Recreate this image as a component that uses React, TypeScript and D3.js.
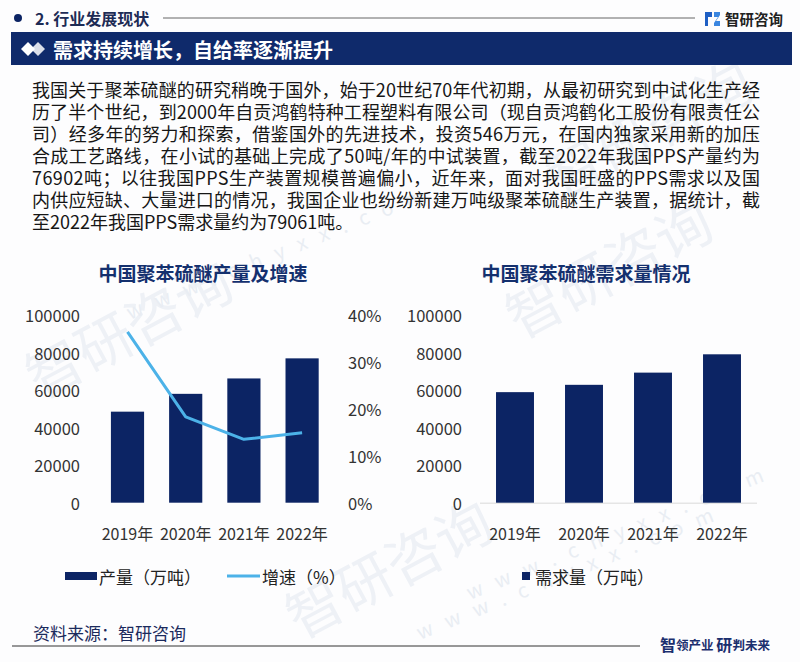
import React from 'react';
import * as d3 from 'd3';

const years = ['2019年', '2020年', '2021年', '2022年'];
const output = [48500, 58000, 66200, 76902];
const growth = [36.4, 18.3, 13.5, 14.9];
const demand = [58900, 62800, 69300, 79061];
const countTicks = [0, 20000, 40000, 60000, 80000, 100000];
const pctTicks = [0, 10, 20, 30, 40];

const paragraph = [
  '我国关于聚苯硫醚的研究稍晚于国外，始于20世纪70年代初期，从最初研究到中试化生产经',
  '历了半个世纪，到2000年自贡鸿鹤特种工程塑料有限公司（现自贡鸿鹤化工股份有限责任公',
  '司）经多年的努力和探索，借鉴国外的先进技术，投资546万元，在国内独家采用新的加压',
  '合成工艺路线，在小试的基础上完成了50吨/年的中试装置，截至2022年我国PPS产量约为',
  '76902吨；以往我国PPS生产装置规模普遍偏小，近年来，面对我国旺盛的PPS需求以及国',
  '内供应短缺、大量进口的情况，我国企业也纷纷新建万吨级聚苯硫醚生产装置，据统计，截',
  '至2022年我国PPS需求量约为79061吨。',
];

const FONT = '"Noto Sans CJK SC", "Noto Sans", sans-serif';
const NAVY = '#0c2464';
const LINE = '#4cb2e8';

const App: React.FC = () => {
  // 左图：产量 + 增速
  const xL = d3.scaleBand<string>().domain(years).range([98.4, 331.2]).paddingInner(0.43).paddingOuter(0.215);
  const yL = d3.scaleLinear().domain([0, 100000]).range([502.7, 315]);
  const yP = d3.scaleLinear().domain([0, 40]).range([502.7, 315]);
  const growthLine = d3.line<number>()
    .x((_, i) => (xL(years[i]) || 0) + xL.bandwidth() / 2)
    .y(d => yP(d));

  // 右图：需求量
  const xR = d3.scaleBand<string>().domain(years).range([480.5, 756.5]).paddingInner(0.45).paddingOuter(0.225);
  const yR = d3.scaleLinear().domain([0, 100000]).range([502.7, 315]);

  const watermarks = [
    { x: 40, y: 400, t: '智研咨询' },
    { x: 520, y: 340, t: '智研咨询' },
    { x: 300, y: 640, t: '智研咨询' },
    { x: 560, y: 200, t: '智研咨询' },
  ];

  return (
    <svg width={800} height={662} style={{ position: 'absolute', left: 0, top: 0, background: '#fff' }} fontFamily={FONT}>
      <rect width={800} height={662} fill="#fdfdfe" />

      {/* 水印 */}
      <g fill="#eef1f6" fontSize={56}>
        {watermarks.map((w, i) => (
          <text key={i} x={w.x} y={w.y} transform={`rotate(-28 ${w.x} ${w.y})`}>{w.t}</text>
        ))}
      </g>
      <g fill="#e9edf3" fontSize={20} letterSpacing={14}>
        <text x={130} y={320} transform="rotate(-22 130 320)">www.chyxx.com</text>
        <text x={420} y={640} transform="rotate(-22 420 640)">www.chyxx.com</text>
        <text x={470} y={600} transform="rotate(-22 470 600)">www.chyxx.com</text>
      </g>

      {/* 顶部标题栏 */}
      <circle cx={18} cy={18} r={4} fill={NAVY} />
      <text x={35} y={18} dominantBaseline="central" fontSize={16} fontWeight={700} fill="#1d2b55">2. 行业发展现状</text>
      <line x1={163} x2={695} y1={18} y2={18} stroke="#666" strokeWidth={1} />
      <g transform="translate(705,10)">
        <path d="M0,2 h7 v5 h-4 v9 h-3 z" fill="#1f5fc4" />
        <path d="M9,2 h6 v3 l-4,6 h4 v5 h-6 v-3 l4,-6 h-4 z" fill="#3a86e0" />
      </g>
      <text x={725} y={18} dominantBaseline="central" fontSize={14.5} fontWeight={700} fill="#222">智研咨询</text>

      <rect x={11} y={32} width={781} height={33} fill="#0f2a6b" />
      <g fill="#fff">
        <path d="M21,49 l7,-7 l7,7 l-7,7 z" />
        <path d="M31,49 l7,-7 l7,7 l-7,7 z" opacity={0.85} />
      </g>
      <text x={53} y={49} dominantBaseline="central" fontSize={20} fontWeight={700} fill="#fff">需求持续增长，自给率逐渐提升</text>

      {/* 正文 */}
      <g fontSize={18} fill="#161616">
        {paragraph.map((l, i) => (
          <text key={i} x={32} y={89 + i * 22} dominantBaseline="central"
            textLength={i < paragraph.length - 1 ? 728 : undefined}
            lengthAdjust="spacing">{l}</text>
        ))}
      </g>

      {/* 左图 */}
      <text x={203} y={272} textAnchor="middle" dominantBaseline="central" fontSize={19} fontWeight={700} fill="#14306e">中国聚苯硫醚产量及增速</text>
      <g fontSize={16.5} fill="#333">
        {countTicks.map(t => (
          <text key={t} x={80} y={yL(t)} textAnchor="end" dominantBaseline="central">{t}</text>
        ))}
        {pctTicks.map(t => (
          <text key={t} x={348} y={yP(t)} dominantBaseline="central">{t}%</text>
        ))}
      </g>
      {output.map((v, i) => (
        <rect key={i} x={xL(years[i])} y={yL(v)} width={xL.bandwidth()} height={yL(0) - yL(v)} fill={NAVY} />
      ))}
      <path d={growthLine(growth) || ''} fill="none" stroke={LINE} strokeWidth={3} strokeLinejoin="round" />
      <g fontSize={16} fill="#333">
        {years.map(y => (
          <text key={y} x={(xL(y) || 0) + xL.bandwidth() / 2} y={533} textAnchor="middle" dominantBaseline="central">{y}</text>
        ))}
      </g>
      <rect x={65} y={572} width={32} height={8} fill={NAVY} />
      <text x={99} y={576} dominantBaseline="central" fontSize={17} fill="#222">产量（万吨）</text>
      <line x1={227} x2={260} y1={576} y2={576} stroke={LINE} strokeWidth={3} />
      <text x={262} y={576} dominantBaseline="central" fontSize={17} fill="#222">增速（%）</text>

      {/* 右图 */}
      <text x={586} y={272} textAnchor="middle" dominantBaseline="central" fontSize={19} fontWeight={700} fill="#14306e">中国聚苯硫醚需求量情况</text>
      <g fontSize={16.5} fill="#333">
        {countTicks.map(t => (
          <text key={t} x={462} y={yR(t)} textAnchor="end" dominantBaseline="central">{t}</text>
        ))}
      </g>
      <line x1={480} x2={757} y1={yR(0) + 0.5} y2={yR(0) + 0.5} stroke="#d9d9d9" strokeWidth={1} />
      {demand.map((v, i) => (
        <rect key={i} x={xR(years[i])} y={yR(v)} width={xR.bandwidth()} height={yR(0) - yR(v)} fill={NAVY} />
      ))}
      <g fontSize={16} fill="#333">
        {years.map(y => (
          <text key={y} x={(xR(y) || 0) + xR.bandwidth() / 2} y={533} textAnchor="middle" dominantBaseline="central">{y}</text>
        ))}
      </g>
      <rect x={522} y={572} width={8} height={8} fill={NAVY} />
      <text x={535} y={576} dominantBaseline="central" fontSize={17} fill="#222">需求量（万吨）</text>

      {/* 底部 */}
      <text x={33} y={632} dominantBaseline="central" fontSize={17} fill="#1b2a5c">资料来源：智研咨询</text>
      <line x1={12} x2={640} y1={646} y2={646} stroke="#333" strokeWidth={1} />
      <text x={660} y={644} dominantBaseline="central" fill="#1b2f6e" fontWeight={700}>
        <tspan fontSize={16}>智</tspan>
        <tspan fontSize={12.5}>领产业 </tspan>
        <tspan fontSize={16}>研</tspan>
        <tspan fontSize={12.5}>判未来</tspan>
      </text>
    </svg>
  );
};

export default App;
